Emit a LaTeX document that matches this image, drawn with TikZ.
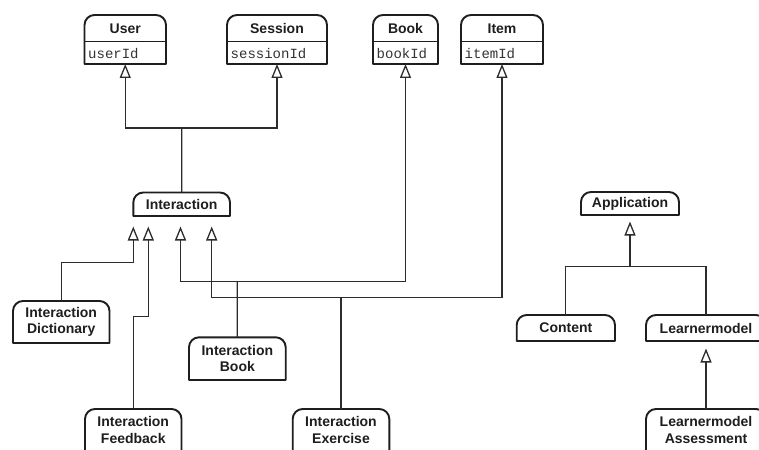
\documentclass[tikz,border=0pt]{standalone}
\usepackage{fontspec}
\setmainfont{Liberation Sans}
\newfontfamily\attrfont{Liberation Mono}
\usetikzlibrary{arrows.meta}

\definecolor{ink}{HTML}{1E1E1E}
\definecolor{wire}{HTML}{2C2C2C}

\tikzset{
  classbox/.style={inner sep=0pt, outer sep=0pt, align=center,
    font=\fontsize{14}{16.6}\selectfont\bfseries, text=ink},
  boxline/.style={draw=ink, line width=1.9pt, line join=round},
  conn/.style={draw=wire, line width=1.25pt},
  inh/.style={conn, -{Triangle[open, width=11pt, length=14pt, line width=1.3pt]}},
  titletext/.style={inner sep=0pt, font=\fontsize{14}{16.6}\selectfont\bfseries, text=ink},
  attrtext/.style={inner sep=0pt, anchor=west, font=\fontsize{14}{16}\attrfont, text=black!80},
}

% outline of a class box: rounded top corners, square bottom corners
\newcommand\classoutline[1]{%
  \draw[boxline] (#1.south west) -- ([yshift=-10pt]#1.north west)
    arc[start angle=180, end angle=90, radius=10pt]
    -- ([xshift=-10pt]#1.north east)
    arc[start angle=90, end angle=0, radius=10pt]
    -- (#1.south east) -- cycle;}

% class box with a title and one attribute row
\newcommand\attrclass[7]{% name, left, right, title, attribute, top, bottom
  \node[classbox, minimum width=#3pt-#2pt, minimum height=#7pt-#6pt]
    (#1) at ({(#2+#3)/2},{(#6+#7)/2}) {};
  \classoutline{#1}
  \draw[boxline] (#2,41.5) -- (#3,41.5);
  \node[titletext] (#1T) at ({(#2+#3)/2},28.3) {#4};
  \node[attrtext] (#1A) at (#2+3.5,53.3) {#5};}

% class box carrying only a name
\newcommand\plainclass[6]{% name, left, right, top, bottom, text
  \node[classbox, minimum width=#3pt-#2pt, minimum height=#5pt-#4pt]
    (#1) at ({(#2+#3)/2},{(#4+#5)/2}) {#6};
  \classoutline{#1}}

\begin{document}
\begin{tikzpicture}[x=1pt, y=-1pt]
\clip (0,0) rectangle (759,449);
\fill[white] (0,0) rectangle (759,449);

% data classes
\attrclass{user}{84.5}{166}{User}{userId}{15}{64}
\attrclass{session}{227}{327}{Session}{sessionId}{15}{64}
\attrclass{book}{373}{438}{Book}{bookId}{15}{64}
\attrclass{item}{461}{543}{Item}{itemId}{15}{64}

% interaction hierarchy
\plainclass{interaction}{133.3}{230}{192.5}{216}{Interaction}
\plainclass{dict}{13}{109.5}{301}{343}{Interaction\\Dictionary}
\plainclass{ibook}{189}{285.7}{337.3}{380}{Interaction\\Book}
\plainclass{feedback}{85}{181.5}{409}{451}{Interaction\\Feedback}
\plainclass{exercise}{292.7}{389.3}{409}{451}{Interaction\\Exercise}

% application hierarchy
\plainclass{application}{581}{679}{192}{215}{Application}
\plainclass{content}{516.7}{615}{315}{341}{Content}
\plainclass{learner}{646}{766}{315}{341}{Learnermodel}
\plainclass{assess}{646}{766}{409}{451}{Learnermodel\\Assessment}

% Interaction inherits from User and Session
\coordinate (jTop) at (181.7,128);
\draw[conn] (interaction.north) -- (jTop);
\draw[inh] (jTop) -| (user.south);
\draw[inh] (jTop) -| (session.south);

% subclasses of Interaction
\coordinate (bDict) at (133.3,262.7);
\draw[inh, shorten >=10.5pt] (dict.north) |- (bDict) -- (bDict |- interaction.south);

\coordinate (bFeed) at (148.3,316.7);
\draw[inh, shorten >=10.5pt] (feedback.north) |- (bFeed) -- (bFeed |- interaction.south);

\coordinate (jBook) at (237.3,281.7);
\coordinate (bBook) at (180.5,281.7);
\draw[conn] (ibook.north) -- (jBook);
\draw[inh, shorten >=10.5pt] (jBook) -- (bBook) -- (bBook |- interaction.south);
\draw[inh] (jBook) -| (book.south);

\coordinate (jEx) at (341,297.7);
\coordinate (bEx) at (211.7,297.7);
\draw[conn] (exercise.north) -- (jEx);
\draw[inh, shorten >=10.5pt] (jEx) -- (bEx) -- (bEx |- interaction.south);
\draw[inh] (jEx) -| (item.south);

% subclasses of Application
\coordinate (jApp) at (630,266.7);
\draw[inh, shorten >=6.5pt] (content.north) |- (jApp) -- (application.south);
\draw[conn] (learner.north) |- (jApp);
\draw[inh, shorten >=7.5pt] (assess.north) -- (learner.south);
\end{tikzpicture}
\end{document}
